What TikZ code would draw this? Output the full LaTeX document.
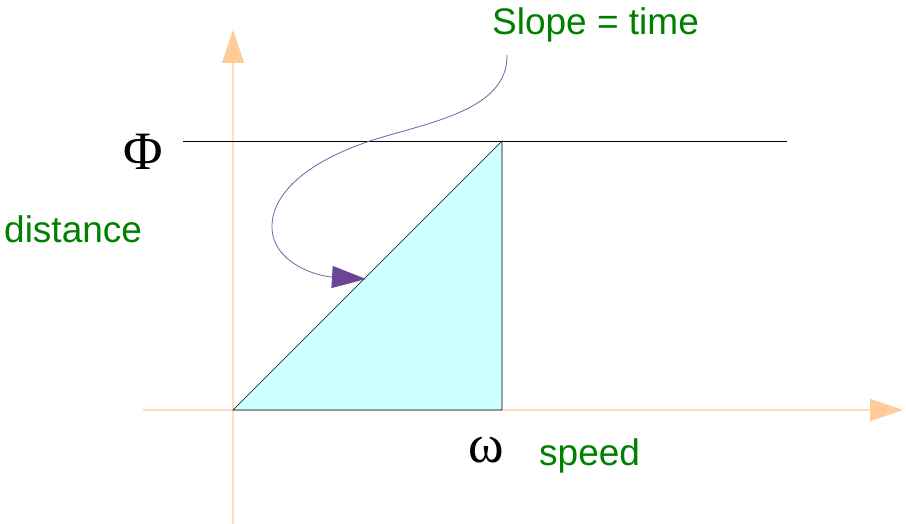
\documentclass[tikz,border=0pt]{standalone}
\usepackage{fontspec}
\setmainfont{Liberation Serif}
\setsansfont{Liberation Sans}
\usepackage{xcolor}
\usetikzlibrary{arrows.meta,calc,positioning}

\definecolor{axisorange}{HTML}{FFCC99}
\definecolor{axisline}{HTML}{FFDDBB}
\definecolor{areacyan}{HTML}{CCFFFF}
\definecolor{labelgreen}{HTML}{008000}
\definecolor{curvepurple}{HTML}{7B5BA6}
\definecolor{tippurple}{HTML}{6B4596}

\tikzset{
    axis/.style={draw=axisline, line width=1.2pt,
        -{Triangle[length=33pt,width=22pt,fill=axisorange,color=axisorange]}},
    greenlabel/.style={font=\sffamily\fontsize{37}{40}\selectfont, text=labelgreen,
        inner sep=0pt, anchor=base west},
    greeklabel/.style={font=\fontsize{54}{54}\selectfont, inner sep=0pt, anchor=base west},
}

\begin{document}
\begin{tikzpicture}[x=1pt,y=-1pt]

    \useasboundingbox (0,0) rectangle (906,524);

    % Axes
    \coordinate (origin) at (233,410);
    \coordinate (xstart) at (143,410);
    \coordinate (xend) at (903,410);
    \coordinate (ystart) at (233,525);
    \coordinate (yend) at (233,30);
    \draw[axis] (xstart) -- (xend);
    \draw[axis] (ystart) -- (yend);

    % Triangle
    \coordinate (omega) at (502,410);
    \coordinate (top) at (502,141);
    \draw[fill=areacyan, line width=0.7pt] (origin) -- (omega) -- (top) -- cycle;

    % Level line
    \coordinate (levelstart) at (183,141);
    \coordinate (levelend) at (787,141);
    \draw[line width=0.7pt] (levelstart) -- (levelend);

    % Labels
    \node[greeklabel] (philabel) at (123,170) {Φ};
    \node[greeklabel] (omegalabel) at (468,462) {ω};
    \node[greenlabel] (distlabel) at (4,243) {distance};
    \node[greenlabel] (speedlabel) at (539,465) {speed};
    \node[greenlabel] (slopelabel) at (492,35) {Slope = time};

    % Slope arrow
    \coordinate (slopestart) at (507,55);
    \coordinate (slopetip) at (366,279);
    \draw[curvepurple, line width=0.8pt,
        -{Triangle[length=34pt,width=22pt,fill=tippurple,color=tippurple]}]
        (slopestart) .. controls (508,110) and (430,122) .. (373,140)
        .. controls (305,162) and (271,195) .. (272,228)
        .. controls (273,262) and (315,276) .. (slopetip);

\end{tikzpicture}
\end{document}
